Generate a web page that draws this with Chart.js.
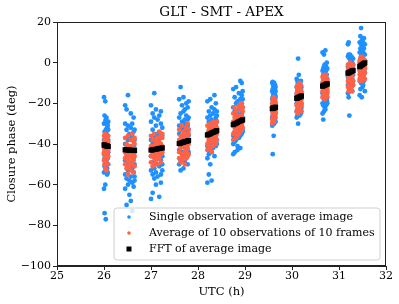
<!DOCTYPE html>
<html>
<head>
<meta charset="utf-8">
<script src="https://cdn.jsdelivr.net/npm/chart.js@4.4.1/dist/chart.umd.min.js"></script>
<style>
  html, body { margin: 0; padding: 0; background: #fff; }
  #wrap { width: 399px; height: 304px; }
</style>
</head>
<body>
<div id="wrap"><canvas id="myChart" width="399" height="304"></canvas></div>
<script>
// observation times (UTC hours), one per row below
const utc = [
    26.00, 26.012, 26.027, 26.038, 26.053, 26.066, 26.079, 26.09,
    26.45, 26.48, 26.51, 26.54, 26.57, 26.60, 26.63, 26.65,
    27.00, 27.035, 27.07, 27.105, 27.14, 27.175, 27.21, 27.24,
    27.60, 27.63, 27.66, 27.69, 27.72, 27.75, 27.78, 27.80,
    28.20, 28.23, 28.26, 28.29, 28.32, 28.35, 28.38, 28.40,
    28.75, 28.78, 28.81, 28.84, 28.87, 28.90, 28.93, 28.95,
    29.58, 29.59, 29.60, 29.61, 29.62, 29.63, 29.64, 29.65,
    30.10, 30.115, 30.13, 30.145, 30.16, 30.175, 30.19, 30.20,
    30.65, 30.665, 30.68, 30.695, 30.71, 30.725, 30.74, 30.75,
    31.19, 31.205, 31.22, 31.235, 31.25, 31.265, 31.28, 31.30,
    31.44, 31.455, 31.47, 31.485, 31.50, 31.515, 31.53, 31.55
];

// FFT of average image (deg)
const fftPhase = [
    -40.4, -40.6, -40.7, -40.8, -40.9, -41.0, -41.1, -41.2,
    -42.8, -42.9, -43.0, -43.0, -43.1, -43.1, -43.2, -43.2,
    -43.0, -42.9, -42.7, -42.6, -42.4, -42.2, -42.1, -41.9,
    -39.8, -39.6, -39.3, -39.1, -38.9, -38.7, -38.5, -38.3,
    -35.6, -35.3, -35.0, -34.6, -34.3, -34.0, -33.7, -33.4,
    -30.5, -30.1, -29.8, -29.4, -29.0, -28.7, -28.4, -28.1,
    -22.6, -22.5, -22.4, -22.3, -22.2, -22.1, -22.0, -21.9,
    -17.6, -17.4, -17.2, -17.0, -16.9, -16.7, -16.5, -16.4,
    -11.6, -11.4, -11.2, -11.0, -10.9, -10.7, -10.5, -10.4,
    -5.2, -5.0, -4.8, -4.6, -4.4, -4.2, -4.0, -3.8,
    -2.0, -1.7, -1.4, -1.1, -0.9, -0.6, -0.4, -0.1
];

// average of 10 observations of 10 frames (deg), 5 per time
const avgPhase = [
    [-36,-44,-48,-40,-42],[-38,-42,-50,-45,-39],[-35,-41,-47,-52,-43],[-39,-43,-46,-37,-44],[-40,-44,-49,-53,-41],[-37,-42,-45,-47,-40],[-38,-41,-44,-50,-43],[-36,-43,-46,-39,-41],
    [-37,-44,-50,-47,-43],[-40,-46,-52,-42,-45],[-36,-45,-48,-55,-41],[-41,-43,-49,-51,-46],[-38,-46,-53,-44,-42],[-35,-42,-47,-50,-44],[-39,-45,-48,-54,-43],[-37,-44,-51,-46,-40],
    [-36,-43,-49,-46,-41],[-38,-45,-51,-41,-44],[-35,-42,-47,-50,-43],[-40,-44,-48,-38,-42],[-37,-41,-46,-50,-44],[-34,-43,-47,-39,-40],[-36,-40,-45,-49,-42],[-35,-42,-44,-37,-41],
    [-33,-40,-47,-44,-38],[-36,-42,-49,-38,-41],[-31,-39,-45,-48,-40],[-34,-41,-46,-36,-39],[-35,-38,-44,-50,-42],[-32,-40,-43,-47,-37],[-30,-37,-42,-46,-39],[-33,-39,-45,-35,-40],
    [-31,-36,-40,-43,-35],[-33,-37,-41,-34,-38],[-30,-35,-39,-42,-36],[-32,-36,-38,-44,-34],[-29,-34,-37,-41,-35],[-31,-35,-39,-33,-37],[-30,-33,-36,-40,-34],[-29,-34,-38,-32,-35],
    [-25,-31,-35,-38,-29],[-27,-30,-34,-22,-32],[-24,-29,-33,-37,-30],[-26,-31,-36,-28,-33],[-21,-28,-32,-35,-29],[-23,-27,-31,-34,-28],[-20,-26,-30,-33,-27],[-24,-28,-32,-22,-29],
    [-20,-24,-28,-30,-22],[-18,-23,-26,-29,-21],[-21,-25,-27,-19,-23],[-17,-22,-26,-28,-24],[-20,-23,-25,-29,-22],[-19,-24,-27,-21,-23],[-18,-22,-26,-24,-20],[-20,-23,-25,-27,-21],
    [-12,-17,-21,-24,-15],[-14,-18,-20,-11,-16],[-13,-16,-22,-25,-18],[-15,-19,-21,-12,-17],[-10,-16,-20,-23,-14],[-13,-17,-19,-22,-15],[-11,-15,-18,-24,-16],[-14,-16,-20,-21,-17],
    [-7,-11,-14,-17,-10],[-9,-12,-15,-8,-11],[-6,-10,-13,-16,-12],[-8,-11,-14,-18,-10],[-7,-12,-15,-9,-13],[-10,-13,-16,-6,-11],[-8,-11,-14,-17,-12],[-9,-12,-13,-15,-10],
    [-1,-5,-9,-12,-4],[-3,-6,-10,-14,-7],[-2,-4,-8,-11,-6],[0,-5,-7,-13,-3],[-3,-6,-9,-1,-5],[-2,-4,-8,-12,-6],[-4,-7,-10,-14,-5],[-1,-5,-9,-11,-3],
    [1,-3,-6,-8,-1],[2,-2,-5,-9,-4],[0,-4,-7,-1,-3],[3,-1,-4,-8,-2],[1,-3,-6,-9,-4],[-2,-5,-7,2,-1],[0,-2,-4,-6,-3],[1,-3,-5,-8,-2]
];

// single observation of average image (deg), 6 per time
const singlePhase = [
    [-17,-30,-38,-45,-54,-62],[-26,-34,-41,-47,-51,-74],[-19,-29,-36,-44,-49,-60],[-28,-33,-39,-46,-53,-77],[-27,-35,-42,-48,-50,-40],[-30,-32,-37,-43,-52,-55],[-31,-36,-40,-45,-47,-54],[-29,-33,-38,-44,-50,-42],
    [-21,-30,-40,-48,-55,-62],[-23,-33,-42,-50,-57,-70],[-16,-31,-38,-46,-53,-60],[-35,-37,-44,-51,-58,-65],[-25,-32,-41,-49,-56,-68],[-30,-36,-43,-52,-59,-73],[-27,-34,-45,-47,-54,-61],[-33,-38,-42,-50,-56,-58],
    [-21,-29,-38,-46,-53,-67],[-25,-33,-40,-49,-55,-64],[-15,-27,-36,-45,-52,-57],[-23,-31,-39,-47,-54,-60],[-28,-35,-42,-50,-56,-47],[-26,-34,-37,-44,-51,-66],[-24,-30,-41,-48,-55,-59],[-32,-36,-43,-46,-50,-53],
    [-18,-27,-35,-43,-50,-31],[-12,-25,-33,-41,-48,-53],[-21,-29,-36,-44,-47,-38],[-17,-24,-32,-40,-46,-52],[-23,-30,-37,-45,-49,-28],[-20,-26,-34,-42,-47,-39],[-22,-28,-31,-43,-45,-50],[-19,-27,-33,-38,-44,-36],
    [-19,-27,-35,-41,-47,-59],[-24,-29,-34,-39,-45,-55],[-18,-26,-32,-38,-43,-50],[-22,-28,-36,-40,-44,-58],[-25,-31,-33,-37,-42,-30],[-16,-23,-30,-39,-46,-35],[-20,-27,-31,-36,-41,-28],[-26,-29,-33,-38,-40,-24],
    [-13,-22,-30,-36,-40,-45],[-17,-24,-29,-34,-39,-44],[-12,-20,-27,-33,-38,-26],[-19,-25,-31,-35,-41,-43],[-15,-21,-28,-32,-37,-23],[-9,-18,-26,-30,-36,-42],[-10,-20,-25,-31,-35,-16],[-14,-22,-27,-33,-34,-18],
    [-10,-14,-18,-22,-27,-31],[-9.5,-13,-17,-21,-26,-45],[-11,-15,-19,-23,-28,-29],[-12,-16,-20,-24,-27,-36],[-10,-14,-17,-21,-25,-30],[-13,-15,-18,-22,-26,-28],[-11,-16,-19,-20,-24,-27],[-12,-14,-17,-23,-25,-29],
    [-8,-12,-16,-20,-24,-27],[-9,-13,-15,-19,-23,-26],[2,-10,-14,-18,-22,-30],[-6,-11,-17,-21,-25,-23],[-10,-12,-15,-19,-22,-26],[-11,-14,-16,-20,-24,-18],[-9,-13,-17,-21,-23,-25],[-12,-15,-18,-20,-22,-24],
    [5,-4,-10,-15,-20,-25],[-3,-6,-12,-16,-21,-28],[4,-2,-8,-13,-18,-24],[-1,-5,-9,-14,-19,-22],[6,-7,-11,-17,-20,-23],[-2,-4,-10,-13,-16,-21],[0,-6,-12,-15,-18,-19],[-3,-8,-11,-14,-17,-20],
    [9,3,-2,-7,-11,-15],[10,4,-1,-6,-10,-17],[2,-3,-5,-9,-13,-26],[4,0,-4,-8,-12,-14],[1,-2,-6,-10,-11,-13],[3,-1,-3,-7,-9,-12],[0,-2,-5,-8,-10,-14],[2,-1,-4,-6,-9,-11],
    [10,5,0,-4,-9,-16],[13,7,2,-3,-8,-13],[17,9,3,-2,-6,-10],[11,6,1,-5,-9,-17],[8,4,-1,-4,-7,-12],[10,5,2,-3,-8,-11],[12,7,0,-2,-6,-9],[9,4,1,-3,-5,-14]
];

const xTicks = [25, 26, 27, 28, 29, 30, 31, 32];
const yTicks = [-100, -80, -60, -40, -20, 0, 20];

const seriesNames = [
    'Single observation of average image',
    'Average of 10 observations of 10 frames',
    'FFT of average image'
];

const FONT = "'DejaVu Serif', 'Liberation Serif', serif";

function toPoints(values) {
    const pts = [];
    values.forEach((row, i) => {
        if (Array.isArray(row)) {
            row.forEach(v => pts.push({ x: utc[i], y: v }));
        } else {
            pts.push({ x: utc[i], y: row });
        }
    });
    return pts;
}

// frame, title, axis labels and legend drawn like matplotlib
const decorations = {
    id: 'decorations',
    afterDatasetsDraw(chart) {
        const ctx = chart.ctx;
        const a = chart.chartArea;
        ctx.save();

        // legend box
        const lx = 114, ly = 208, lw = 266, lh = 52;
        ctx.beginPath();
        ctx.roundRect(lx, ly, lw, lh, 3);
        ctx.fillStyle = 'rgba(255,255,255,0.8)';
        ctx.fill();
        ctx.strokeStyle = '#d0d0d0';
        ctx.lineWidth = 1;
        ctx.stroke();

        const rows = [217, 233, 249];
        const colors = ['#1E90FF', '#FF6347', '#000000'];
        ctx.font = '11px ' + FONT;
        ctx.textBaseline = 'middle';
        ctx.textAlign = 'left';
        rows.forEach((ry, i) => {
            ctx.fillStyle = colors[i];
            if (i < 2) {
                ctx.beginPath();
                ctx.arc(129, ry, 1.8, 0, Math.PI * 2);
                ctx.fill();
            } else {
                ctx.fillRect(126.5, ry - 2.5, 5, 5);
            }
            ctx.fillStyle = '#000';
            ctx.fillText(seriesNames[i], 149, ry + 0.5);
        });

        // frame
        ctx.strokeStyle = '#222';
        ctx.lineWidth = 1;
        ctx.strokeRect(a.left + 0.5, a.top + 0.5, a.right - a.left - 1, a.bottom - a.top - 1);

        // title
        ctx.fillStyle = '#000';
        ctx.textAlign = 'center';
        ctx.textBaseline = 'middle';
        ctx.font = '13.5px ' + FONT;
        ctx.fillText('GLT - SMT - APEX', (a.left + a.right) / 2, 12);

        // axis labels
        ctx.font = '11.5px ' + FONT;
        ctx.fillText('UTC (h)', (a.left + a.right) / 2, 292);
        ctx.translate(12, (a.top + a.bottom) / 2);
        ctx.rotate(-Math.PI / 2);
        ctx.fillText('Closure phase (deg)', 0, 0);
        ctx.restore();
    }
};

const chart = new Chart(document.getElementById('myChart'), {
    type: 'scatter',
    data: {
        datasets: [
            {
                label: seriesNames[2],
                data: toPoints(fftPhase),
                pointStyle: 'rect',
                pointRadius: 3.6,
                backgroundColor: '#000000',
                borderWidth: 0,
                order: 0
            },
            {
                label: seriesNames[1],
                data: toPoints(avgPhase),
                pointRadius: 2.4,
                backgroundColor: '#FF6347',
                borderWidth: 0,
                order: 1
            },
            {
                label: seriesNames[0],
                data: toPoints(singlePhase),
                pointRadius: 2.4,
                backgroundColor: '#1E90FF',
                borderWidth: 0,
                order: 2
            }
        ]
    },
    options: {
        responsive: false,
        animation: false,
        events: [],
        layout: { padding: { top: 22, right: 13, left: 0, bottom: 0 } },
        plugins: {
            legend: { display: false },
            title: { display: false },
            tooltip: { enabled: false }
        },
        scales: {
            x: {
                type: 'linear',
                min: 25,
                max: 32,
                afterFit: s => { s.height = 38; },
                afterBuildTicks: s => { s.ticks = xTicks.map(v => ({ value: v })); },
                grid: { drawOnChartArea: false, drawTicks: true, tickLength: 4, color: '#222' },
                border: { color: '#222' },
                ticks: { color: '#000', padding: 0, font: { family: FONT, size: 11 }, maxRotation: 0 }
            },
            y: {
                min: -100,
                max: 20,
                afterFit: s => { s.width = 57; },
                afterBuildTicks: s => { s.ticks = yTicks.map(v => ({ value: v })); },
                grid: { drawOnChartArea: false, drawTicks: true, tickLength: 4, color: '#222' },
                border: { color: '#222' },
                ticks: {
                    color: '#000',
                    padding: 2,
                    font: { family: FONT, size: 11 },
                    callback: v => v < 0 ? '\u2212' + Math.abs(v) : String(v)
                }
            }
        }
    },
    plugins: [decorations]
});
</script>
</body>
</html>
